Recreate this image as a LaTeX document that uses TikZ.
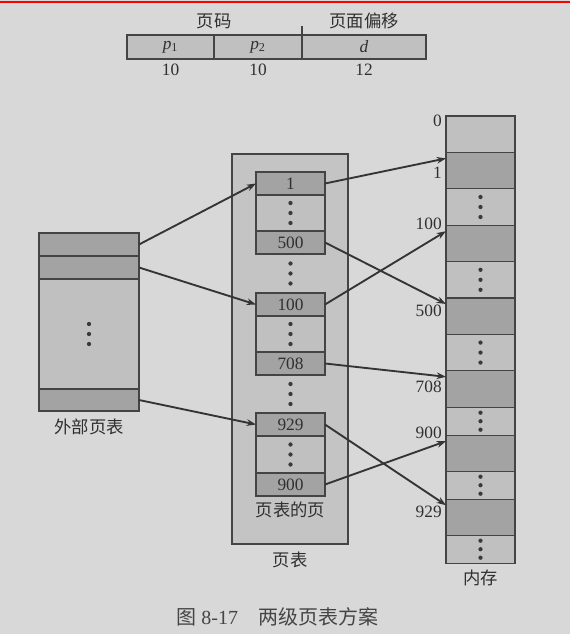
\documentclass[tikz,border=0pt]{standalone}
\usepackage{fontspec}
\setmainfont{Liberation Serif}
\newfontfamily\cjk{Noto Sans CJK SC}
\usetikzlibrary{
    arrows.meta,
    positioning,
    calc
}

\definecolor{bgc}{RGB}{216,216,216}
\definecolor{lightc}{RGB}{192,192,192}
\definecolor{darkc}{RGB}{163,163,163}
\definecolor{tablec}{RGB}{196,196,196}
\definecolor{linec}{RGB}{68,68,68}
\definecolor{arrowc}{RGB}{52,52,52}
\definecolor{txtc}{RGB}{48,48,48}
\definecolor{dotc}{RGB}{58,58,58}

\begin{document}
\begin{tikzpicture}[x=0.75pt, y=-0.75pt,
            font=\fontsize{13}{15}\selectfont, text=txtc,
            cell/.style={rectangle, draw=linec, line width=0.8pt, minimum width=51.75pt, inner sep=0pt, outer sep=0pt},
            entry/.style={cell, fill=darkc, minimum height=17.25pt},
            gapcell/.style={cell, fill=lightc, minimum height=27pt},
            memframe/.style={cell, fill=darkc, minimum height=27.3pt},
            memfree/.style={cell, fill=lightc, minimum height=27.3pt},
            memshort/.style={cell, fill=lightc, minimum height=21pt},
            outercell/.style={cell, fill=darkc, minimum width=75pt, minimum height=17.25pt},
            field/.style={cell, fill=lightc, minimum height=18pt},
            tablebox/.style={rectangle, draw=linec, line width=0.8pt, fill=tablec, minimum width=87pt, minimum height=292.5pt},
            ptr/.style={-{Stealth[length=7pt, width=5pt]}, line width=1.4pt, draw=arrowc},
            lbl/.style={inner sep=0pt}
        ]

        \fill[bgc] (0,0) rectangle (570,634);
        \useasboundingbox (0,0) rectangle (570,634);
        \draw[red, line width=1.5pt] (0,2.5) -- (570,2.5);

        % logical address
        \node[field, minimum width=65.25pt] (fp1) at (170.5,47) {\textit{p}\textsubscript{1}};
        \node[field, minimum width=66pt, right=0pt of fp1] (fp2) {\textit{p}\textsubscript{2}};
        \node[field, minimum width=93pt, right=0pt of fp2] (fd) {\textit{d}};
        \draw[draw=linec, line width=0.8pt] (fd.north west) -- ++(0,-9);
        \node[lbl] (pagenum) at ([yshift=10.5pt]fp1.north east) {\cjk 页码};
        \node[lbl] (offset) at ([yshift=10.5pt]fd.north) {\cjk 页面偏移};
        \node[lbl] (bits1) at ([yshift=-8.25pt]fp1.south) {10};
        \node[lbl] (bits2) at ([yshift=-8.25pt]fp2.south) {10};
        \node[lbl] (bits3) at ([yshift=-8.25pt]fd.south) {12};

        % outer page table
        \node[outercell, anchor=north] (outer1) at (89,233) {};
        \node[outercell, below=0pt of outer1] (outer2) {};
        \node[outercell, fill=lightc, minimum height=82.5pt, below=0pt of outer2] (outer3) {};
        \node[outercell, minimum height=16.5pt, below=0pt of outer3] (outer4) {};
        \node[lbl] (outername) at ([yshift=-12pt]outer4.south) {\cjk 外部页表};

        % page table
        \node[tablebox] (ptable) at (290,349) {};
        \node[entry] (pe1) at (290.5,183.5) {1};
        \node[gapcell, below=0pt of pe1] (pg1) {};
        \node[entry, below=0pt of pg1] (pe500) {500};
        \node[entry, below=29.25pt of pe500] (pe100) {100};
        \node[gapcell, below=0pt of pe100] (pg2) {};
        \node[entry, below=0pt of pg2] (pe708) {708};
        \node[entry, below=28.5pt of pe708] (pe929) {929};
        \node[gapcell, minimum height=27.75pt, below=0pt of pe929] (pg3) {};
        \node[entry, below=0pt of pg3] (pe900) {900};
        \coordinate (pgap1) at ($(pe500.south)!0.5!(pe100.north)$);
        \coordinate (pgap2) at ($(pe708.south)!0.5!(pe929.north)$);
        \node[lbl] (pagename) at ([yshift=-10.5pt]pe900.south) {\cjk 页表的页};
        \node[lbl] (tablename) at ([yshift=-11.25pt]ptable.south) {\cjk 页表};

        % memory
        \node[memfree, anchor=north] (mem0) at (480.5,116) {};
        \node[memframe, below=0pt of mem0] (mem1) {};
        \node[memfree, below=0pt of mem1] (mem2) {};
        \node[memframe, below=0pt of mem2] (mem3) {};
        \node[memfree, below=0pt of mem3] (mem4) {};
        \node[memframe, below=0pt of mem4] (mem5) {};
        \node[memfree, below=0pt of mem5] (mem6) {};
        \node[memframe, below=0pt of mem6] (mem7) {};
        \node[memshort, below=0pt of mem7] (mem8) {};
        \node[memframe, minimum height=27pt, below=0pt of mem8] (mem9) {};
        \node[memshort, below=0pt of mem9] (mem10) {};
        \node[memframe, minimum height=27pt, below=0pt of mem10] (mem11) {};
        \node[memshort, below=0pt of mem11] (mem12) {};
        \node[lbl] (memname) at ([yshift=-11.25pt]mem12.south) {\cjk 内存};

        \node[lbl, anchor=east] (addr0) at ([xshift=-3pt, yshift=-3.75pt]mem0.north west) {0};
        \node[lbl, anchor=east] (addr1) at ([xshift=-3pt, yshift=-15pt]mem1.north west) {1};
        \node[lbl, anchor=east] (addr100) at ([xshift=-3pt, yshift=0.75pt]mem3.north west) {100};
        \node[lbl, anchor=east] (addr500) at ([xshift=-3pt, yshift=-9.75pt]mem5.north west) {500};
        \node[lbl, anchor=east] (addr708) at ([xshift=-3pt, yshift=-12pt]mem7.north west) {708};
        \node[lbl, anchor=east] (addr900) at ([xshift=-3pt, yshift=1.5pt]mem9.north west) {900};
        \node[lbl, anchor=east] (addr929) at ([xshift=-3pt, yshift=-9.75pt]mem11.north west) {929};

        % ellipsis dots
        \foreach \c in {pg1,pgap1,pg2,pgap2,pg3,outer3,mem2,mem4,mem6}
            \foreach \k in {-10,0,10}
                \fill[dotc] ([yshift=\k*0.75pt]\c.center) circle (1.6pt);
        \foreach \c in {mem8,mem10,mem12}
            \foreach \k in {-8.5,0,8.5}
                \fill[dotc] ([yshift=\k*0.75pt]\c.center) circle (1.6pt);

        % pointers
        \draw[ptr] (outer1.east) -- (pe1.west);
        \draw[ptr] (outer2.east) -- (pe100.west);
        \draw[ptr] (outer4.east) -- (pe929.west);
        \draw[ptr] (pe1.east) -- ([yshift=-4.5pt]mem1.north west);
        \draw[ptr] (pe500.east) -- ([yshift=-4.5pt]mem5.north west);
        \draw[ptr] (pe100.east) -- ([yshift=-4.5pt]mem3.north west);
        \draw[ptr] (pe708.east) -- ([yshift=-4.5pt]mem7.north west);
        \draw[ptr] (pe929.east) -- ([yshift=-4.5pt]mem11.north west);
        \draw[ptr] (pe900.east) -- ([yshift=-4.5pt]mem9.north west);

        \node[lbl, text=txtc!90, font=\fontsize{15}{17}\selectfont] (caption) at (277.5,617) {\cjk 图 {\rmfamily 8-17}\quad 两级页表方案};

        \end{tikzpicture}
\end{document}
